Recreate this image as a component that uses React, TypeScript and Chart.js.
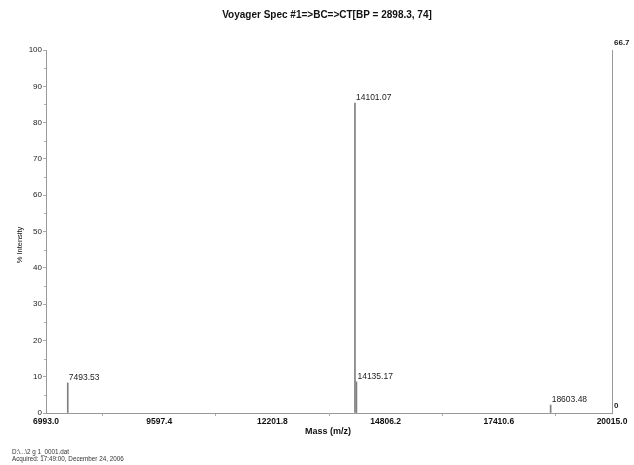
import React, { useEffect, useRef } from "react";
import { Chart, registerables } from "chart.js";

Chart.register(...registerables);

const titleText = "Voyager Spec #1=>BC=>CT[BP = 2898.3, 74]";
const peakMasses = [7493.53, 14101.07, 14135.17, 18603.48];
const peakIntensities = [8.3, 85.4, 8.6, 2.2];
const peakLabels = ["7493.53", "14101.07", "14135.17", "18603.48"];
const xTickValues = [6993.0, 9597.4, 12201.8, 14806.2, 17410.6, 20015.0];
const yTickValues = [0, 10, 20, 30, 40, 50, 60, 70, 80, 90, 100];
const rightTickValues = [0, 66.7];
const footerLines = ["D:\\...\\2 g 1_0001.dat", "Acquired: 17:49:00, December 24, 2006"];
const xTitle = "Mass (m/z)";
const yTitle = "% Intensity";

const FONT = "'Liberation Sans', Arial, sans-serif";

const overlayPlugin = {
  id: "overlay",
  afterDraw(chart: any) {
    const ctx = chart.ctx;
    const xs = chart.scales.x;
    const ys = chart.scales.y;
    const area = chart.chartArea;
    ctx.save();
    ctx.strokeStyle = "#b0b0b0";
    ctx.lineWidth = 1;
    for (let v = 0; v <= 100; v += 5) {
      if (v % 10 === 0) continue;
      const y = Math.round(ys.getPixelForValue(v)) + 0.5;
      ctx.beginPath();
      ctx.moveTo(area.left - 2, y);
      ctx.lineTo(area.left, y);
      ctx.stroke();
    }
    ctx.fillStyle = "#222";
    ctx.font = `8.5px ${FONT}`;
    ctx.textBaseline = "bottom";
    ctx.textAlign = "left";
    peakMasses.forEach((m, i) => {
      const x = xs.getPixelForValue(m);
      const y = ys.getPixelForValue(peakIntensities[i]);
      ctx.fillText(peakLabels[i], x + 1, y - 1);
    });
    ctx.font = `bold 10px ${FONT}`;
    ctx.textAlign = "center";
    ctx.textBaseline = "middle";
    ctx.fillStyle = "#111";
    ctx.fillText(titleText, 327, 15);
    ctx.font = `bold 9px ${FONT}`;
    ctx.fillText(xTitle, 328, 432);
    ctx.save();
    ctx.translate(20, 245);
    ctx.rotate(-Math.PI / 2);
    ctx.font = `7.5px ${FONT}`;
    ctx.fillText(yTitle, 0, 0);
    ctx.restore();
    ctx.font = `6.3px ${FONT}`;
    ctx.textAlign = "left";
    ctx.fillStyle = "#333";
    ctx.fillText(footerLines[0], 12, 452);
    ctx.fillText(footerLines[1], 12, 459);
    ctx.restore();
  },
};

export default function App() {
  const ref = useRef<HTMLCanvasElement | null>(null);
  useEffect(() => {
    document.body.style.margin = "0";
    const canvas = ref.current!;
    const chart = new Chart(canvas, {
      type: "bar",
      data: {
        datasets: [
          {
            data: peakMasses.map((m, i) => ({ x: m, y: peakIntensities[i] })),
            backgroundColor: "#808080",
            borderWidth: 0,
            barThickness: 1,
            grouped: false,
          } as any,
        ],
      },
      options: {
        animation: false,
        responsive: false,
        devicePixelRatio: 1,
        layout: { padding: { top: 50, left: 0, right: 0, bottom: 0 } },
        plugins: { legend: { display: false }, title: { display: false }, tooltip: { enabled: false } },
        scales: {
          x: {
            type: "linear",
            min: 6993.0,
            max: 20015.0,
            offset: false,
            afterBuildTicks: (s: any) => {
              s.ticks = xTickValues.map((v) => ({ value: v }));
            },
            afterFit: (s: any) => {
              s.height = 52;
            },
            ticks: {
              autoSkip: false,
              maxRotation: 0,
              padding: 1,
              color: "#111",
              font: { family: FONT, size: 8.5, weight: "bold" },
              callback: (v: any) => Number(v).toFixed(1),
            },
            grid: { drawOnChartArea: false, tickLength: 3, color: "#aaa" },
            border: { color: "#999" },
          },
          y: {
            type: "linear",
            position: "left",
            min: 0,
            max: 100,
            afterBuildTicks: (s: any) => {
              s.ticks = yTickValues.map((v) => ({ value: v }));
            },
            afterFit: (s: any) => {
              s.width = 46;
            },
            ticks: {
              padding: 1,
              color: "#222",
              font: { family: FONT, size: 8 },
            },
            grid: { drawOnChartArea: false, tickLength: 3, color: "#aaa" },
            border: { color: "#999" },
          },
          y2: {
            type: "linear",
            position: "right",
            min: 0,
            max: 66.7,
            afterBuildTicks: (s: any) => {
              s.ticks = rightTickValues.map((v) => ({ value: v }));
            },
            afterFit: (s: any) => {
              s.width = 22;
            },
            ticks: {
              padding: 2,
              labelOffset: -7,
              color: "#222",
              font: { family: FONT, size: 8, weight: "bold" },
              callback: (v: any) => (v === 0 ? "0" : Number(v).toFixed(1)),
            },
            grid: { drawOnChartArea: false, drawTicks: false, tickLength: 0, color: "#aaa" },
            border: { color: "#999" },
          },
        },
      } as any,
      plugins: [overlayPlugin],
    });
    return () => chart.destroy();
  }, []);
  return (
    <div style={{ width: 634, height: 465, background: "#fff" }}>
      <canvas ref={ref} width={634} height={465} style={{ display: "block" }} />
    </div>
  );
}
